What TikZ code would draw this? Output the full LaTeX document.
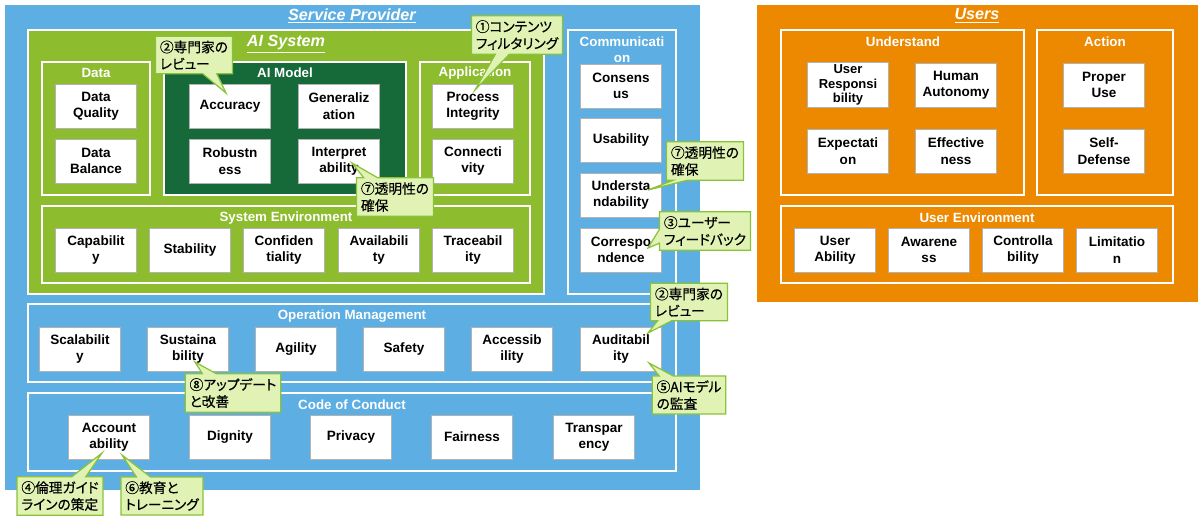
\documentclass[tikz,border=0pt]{standalone}
\usepackage{fontspec}
\setmainfont{Liberation Sans}
\newfontfamily\jpfont[RawFeature=+palt, FakeBold=0.5]{Noto Sans CJK JP}
\usepackage{tikz}
\usetikzlibrary{shapes.callouts, calc}

\definecolor{spblue}{RGB}{93,174,226}
\definecolor{aigreen}{RGB}{141,188,46}
\definecolor{modgreen}{RGB}{22,106,58}
\definecolor{usorange}{RGB}{236,137,0}
\definecolor{notefill}{RGB}{224,243,180}
\definecolor{noteline}{RGB}{138,194,58}

\begin{document}
\begin{tikzpicture}[x=0.02cm, y=-0.02cm,
  item/.style={draw=gray!60, fill=white, minimum width=1.62cm, minimum height=0.88cm, align=center, inner sep=1pt, font=\bfseries\fontsize{7.7}{9.3}\selectfont},
  head/.style={text=white, align=center, font=\bfseries\fontsize{7.6}{9.3}\selectfont},
  bighead/.style={text=white, font=\bfseries\itshape\fontsize{9.2}{11}\selectfont},
  frame/.style={draw=white, line width=1.6pt},
  note/.style={rectangle callout, draw=noteline, fill=notefill, line width=0.7pt, align=left, inner sep=2.5pt, callout pointer width=0.28cm, font=\jpfont\fontsize{7.8}{9.6}\selectfont}]
  \useasboundingbox (0,0) rectangle (1200,528);

  % Service Provider (left, blue)
  \fill[spblue] (5,5) rectangle (700,490);
  \node[bighead] (sptitle) at (352,16) {\underline{Service Provider}};

  % AI System
  \draw[frame, fill=aigreen] (28,30) rectangle (544,294);
  \node[bighead] (aititle) at (286,44) {\underline{AI System}};
  \draw[frame, fill=aigreen] (42,62) rectangle (150,195);
  \node[head] (datatitle) at (96,73) {Data};
  \node[item] (dq) at (96,106) {Data\\Quality};
  \node[item] (db) at (96,161) {Data\\Balance};

  \draw[frame, fill=modgreen] (164,62) rectangle (406,195);
  \node[head] (modtitle) at (285,73) {AI Model};
  \node[item] (acc) at (230,106) {Accuracy};
  \node[item] (gen) at (339,106) {Generaliz\\ation};
  \node[item] (rob) at (230,161) {Robustn\\ess};
  \node[item] (interp) at (339,161) {Interpret\\ability};

  \draw[frame, fill=aigreen] (420,62) rectangle (530,195);
  \node[head] (apptitle) at (475,73) {Application};
  \node[item] (proc) at (473,106) {Process\\Integrity};
  \node[item] (conn) at (473,161) {Connecti\\vity};

  \draw[frame, fill=aigreen] (42,206) rectangle (530,283);
  \node[head] (envtitle) at (286,218) {System Environment};
  \node[item] (cap) at (96,250) {Capabilit\\y};
  \node[item] (stab) at (190,250) {Stability};
  \node[item] (conf) at (284,250) {Confiden\\tiality};
  \node[item] (avail) at (379,250) {Availabili\\ty};
  \node[item] (trace) at (473,250) {Traceabil\\ity};

  % Communication column
  \draw[frame, fill=spblue] (568,30) rectangle (676,294);
  \node[head] (comtitle) at (622,50) {Communicati\\on};
  \node[item] (cons) at (621,86) {Consens\\us};
  \node[item] (usab) at (621,140) {Usability};
  \node[item] (under) at (621,195) {Understa\\ndability};
  \node[item] (corr) at (621,250) {Correspo\\ndence};

  % Operation Management
  \draw[frame, fill=spblue] (28,304) rectangle (676,382);
  \node[head] (optitle) at (352,316) {Operation Management};
  \node[item] (scal) at (80,349) {Scalabilit\\y};
  \node[item] (sust) at (188,349) {Sustaina\\bility};
  \node[item] (agil) at (296,349) {Agility};
  \node[item] (safe) at (404,349) {Safety};
  \node[item] (acces) at (512,349) {Accessib\\ility};
  \node[item] (audit) at (621,349) {Auditabil\\ity};

  % Code of Conduct
  \draw[frame, fill=spblue] (28,393) rectangle (676,471);
  \node[head] (cctitle) at (352,405) {Code of Conduct};
  \node[item] (acct) at (109,437) {Account\\ability};
  \node[item] (dign) at (230,437) {Dignity};
  \node[item] (priv) at (351,437) {Privacy};
  \node[item] (fair) at (472,437) {Fairness};
  \node[item] (transp) at (594,437) {Transpar\\ency};

  % Users (right, orange)
  \fill[usorange] (757,5) rectangle (1198,302);
  \node[bighead] (ustitle) at (977,16) {\underline{Users}};
  \draw[frame] (781,30) rectangle (1024,195);
  \node[head] (undtitle) at (903,42) {Understand};
  \node[item, font=\bfseries\fontsize{7.4}{8.3}\selectfont] (ures) at (848,85) {User\\Responsi\\bility};
  \node[item] (hauto) at (956,85) {Human\\Autonomy};
  \node[item] (expec) at (848,151) {Expectati\\on};
  \node[item] (effec) at (956,151) {Effective\\ness};
  \draw[frame] (1037,30) rectangle (1173,195);
  \node[head] (acttitle) at (1105,42) {Action};
  \node[item] (proper) at (1104,85) {Proper\\Use};
  \node[item] (selfd) at (1104,151) {Self-\\Defense};
  \draw[frame] (781,206) rectangle (1173,283);
  \node[head] (uetitle) at (977,218) {User Environment};
  \node[item] (uab) at (835,250) {User\\Ability};
  \node[item] (aware) at (929,250) {Awarene\\ss};
  \node[item] (contr) at (1023,250) {Controlla\\bility};
  \node[item] (limit) at (1117,250) {Limitatio\\n};

  % callouts
  \node[note, callout absolute pointer={($(proc)+(2,-16)$)}] (n1) at (517,35) {①コンテンツ\\フィルタリング};
  \node[note, callout absolute pointer={($(acc)+(-4,-13)$)}] (n2) at (194,55) {②専門家の\\レビュー};
  \node[note, callout absolute pointer={($(interp)+(13,2)$)}] (n7a) at (395,197) {⑦透明性の\\確保};
  \node[note, callout absolute pointer={($(under)+(27,-5)$)}] (n7b) at (705,161) {⑦透明性の\\確保};
  \node[note, callout absolute pointer={($(corr)+(27,-2)$)}] (n3) at (705,231) {③ユーザー\\フィードバック};
  \node[note, callout absolute pointer={($(audit)+(27,-16)$)}] (n2b) at (689,302) {②専門家の\\レビュー};
  \node[note, callout absolute pointer={($(audit)+(28,14)$)}] (n5) at (689,395) {⑤AIモデル\\の監査};
  \node[note, callout absolute pointer={($(sust)+(7,13)$)}] (n8) at (233,393) {⑧アップデート\\と改善};
  \node[note, callout absolute pointer={($(acct)+(-7,16)$)}] (n4) at (60,496) {④倫理ガイド\\ラインの策定};
  \node[note, callout absolute pointer={($(acct)+(13,18)$)}] (n6) at (162,496) {⑥教育と\\トレーニング};
\end{tikzpicture}
\end{document}
